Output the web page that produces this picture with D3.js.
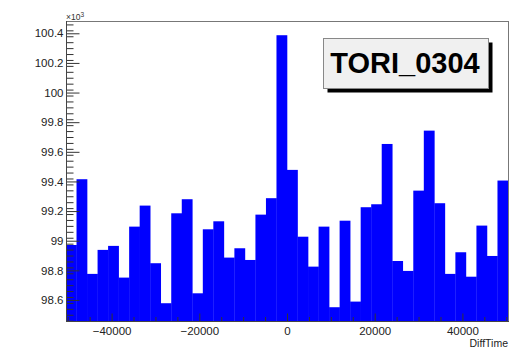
<!DOCTYPE html>
<html>
<head>
<meta charset="utf-8">
<script src="https://cdn.jsdelivr.net/npm/d3@7"></script>
<style>
  html, body { margin: 0; padding: 0; background: #fff; }
  svg { display: block; }
  text { font-family: "Liberation Sans", Arial, Helvetica, sans-serif; }
</style>
</head>
<body>
<svg id="chart" width="519" height="349"></svg>
<script>
// Histogram of DiffTime: 42 bins of width 2400 over [-50400, 50400]
const binLowEdges = [
  -50400, -48000, -45600, -43200, -40800, -38400, -36000, -33600, -31200, -28800,
  -26400, -24000, -21600, -19200, -16800, -14400, -12000, -9600, -7200, -4800,
  -2400, 0, 2400, 4800, 7200, 9600, 12000, 14400, 16800, 19200,
  21600, 24000, 26400, 28800, 31200, 33600, 36000, 38400, 40800, 43200,
  45600, 48000
];
const binWidth = 2400;
const counts = [
  98971, 99415, 98776, 98938, 98965, 98751, 99095, 99237, 98848, 98578,
  99185, 99280, 98645, 99077, 99131, 98886, 98949, 98870, 99176, 99287,
  100387, 99478, 99027, 98825, 99095, 98551, 99135, 98589, 99226, 99246,
  99653, 98863, 98796, 99338, 99743, 99253, 98776, 98922, 98757, 99102,
  98897, 99406
];
const xTickValues = [-40000, -20000, 0, 20000, 40000];
const yTickLabels = [98.6, 98.8, 99, 99.2, 99.4, 99.6, 99.8, 100, 100.2, 100.4];
const histTitle = "TORI_0304";
const xTitle = "DiffTime";

const svg = d3.select("#chart");
const L = 66, R = 508, T = 21, B = 321;

const x = d3.scaleLinear().domain([-50400, 50400]).range([L, R]);
const y = d3.scaleLinear().domain([98458, 100483]).range([B, T]);

// bars
svg.append("g")
  .selectAll("rect")
  .data(counts)
  .join("rect")
  .attr("x", (d, i) => x(binLowEdges[i]))
  .attr("width", (d, i) => x(binLowEdges[i] + binWidth) - x(binLowEdges[i]) + 0.3)
  .attr("y", d => y(d))
  .attr("height", d => B - y(d))
  .attr("fill", "#0000ff");

// frame
svg.append("rect")
  .attr("x", L + 0.5).attr("y", T + 0.5)
  .attr("width", R - L).attr("height", B - T)
  .attr("fill", "none").attr("stroke", "#777").attr("stroke-width", 1);

// y axis: major ticks with labels, minor ticks
const yMajor = yTickLabels.map(v => v * 1000);
const yMinor = d3.range(98460, 100484, 40).filter(v => !yMajor.includes(v));

const yAxisG = svg.append("g").attr("transform", `translate(${L + 0.5},0)`)
  .call(d3.axisLeft(y).tickValues(yMajor).tickSize(-13).tickPadding(3)
    .tickFormat(v => String(+(v / 1000).toFixed(1))));
yAxisG.select(".domain").remove();
yAxisG.selectAll("line").attr("stroke", "#333");
yAxisG.selectAll("text").attr("font-size", "11.5px").attr("fill", "#222");

const yMinorG = svg.append("g").attr("transform", `translate(${L + 0.5},0)`)
  .call(d3.axisLeft(y).tickValues(yMinor).tickSize(-7).tickFormat(""));
yMinorG.select(".domain").remove();
yMinorG.selectAll("line").attr("stroke", "#333");

// x axis
const xMinor = d3.range(-50000, 50001, 5000).filter(v => !xTickValues.includes(v));
const xAxisG = svg.append("g").attr("transform", `translate(0,${B + 0.5})`)
  .call(d3.axisBottom(x).tickValues(xTickValues).tickSize(-8).tickPadding(5)
    .tickFormat(d3.format("d")));
xAxisG.select(".domain").remove();
xAxisG.selectAll("line").attr("stroke", "#333");
xAxisG.selectAll("text").attr("font-size", "11.5px").attr("fill", "#222")
  .text(d => d < 0 ? "\u2212" + Math.abs(d) : String(d));

const xMinorG = svg.append("g").attr("transform", `translate(0,${B + 0.5})`)
  .call(d3.axisBottom(x).tickValues(xMinor).tickSize(-4.5).tickFormat(""));
xMinorG.select(".domain").remove();
xMinorG.selectAll("line").attr("stroke", "#333");

// axis lines
svg.append("line").attr("x1", L + 0.5).attr("x2", L + 0.5).attr("y1", T).attr("y2", B + 1)
  .attr("stroke", "#444");
svg.append("line").attr("x1", L).attr("x2", R + 1).attr("y1", B + 0.5).attr("y2", B + 0.5)
  .attr("stroke", "#444");

// exponent label
const expo = svg.append("text").attr("x", L).attr("y", 20)
  .attr("font-size", "8.5px").attr("fill", "#333");
expo.append("tspan").text("\u00d710");
expo.append("tspan").attr("font-size", "6.5px").attr("dy", "-3.5").text("3");

// x title
svg.append("text").attr("x", R).attr("y", 346.5)
  .attr("text-anchor", "end").attr("font-size", "10.5px").attr("fill", "#222")
  .text(xTitle);

// title box with shadow
const bx = 323.5, by = 38.5, bw = 165, bh = 50;
svg.append("rect").attr("x", bx + 4).attr("y", by + 4).attr("width", bw).attr("height", bh)
  .attr("fill", "#000");
svg.append("rect").attr("x", bx).attr("y", by).attr("width", bw).attr("height", bh)
  .attr("fill", "#f0f0f0").attr("stroke", "#888").attr("stroke-width", 1);
svg.append("text").attr("x", bx + bw / 2 - 1).attr("y", 72.5)
  .attr("text-anchor", "middle").attr("font-size", "29px").attr("font-weight", "bold")
  .attr("fill", "#000").text(histTitle);
</script>
</body>
</html>
